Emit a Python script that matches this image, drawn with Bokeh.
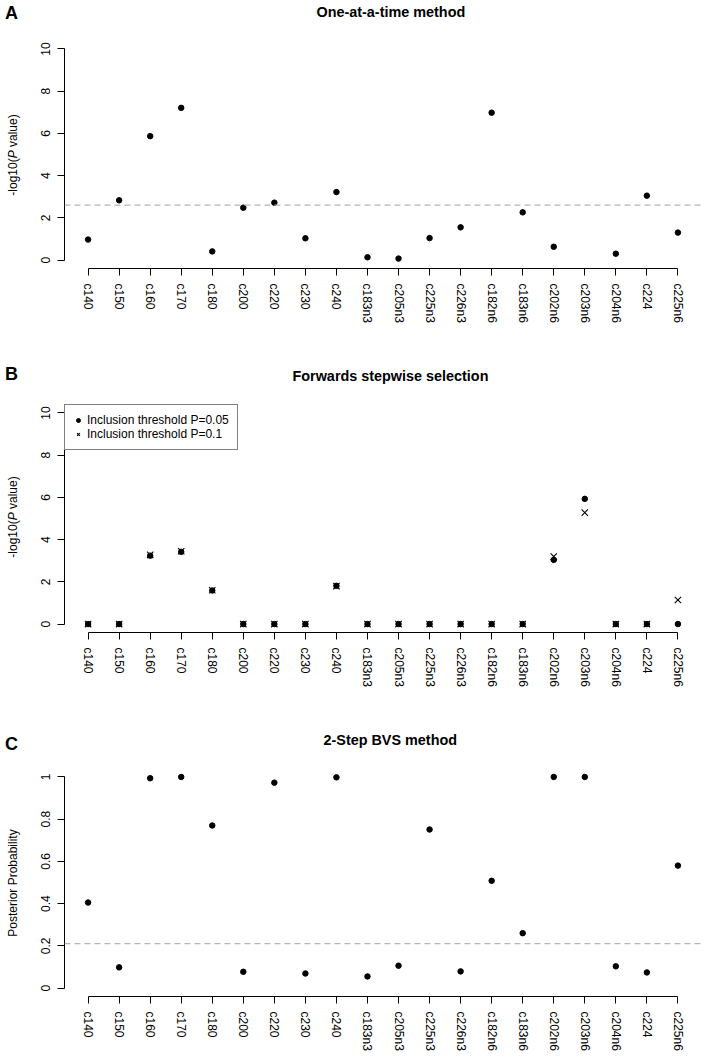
from bokeh.plotting import figure
from bokeh.models import (Range1d, FixedTicker, Span, Legend, LegendItem, Div, Title,
                          LinearAxis)
from bokeh.layouts import column, row
from bokeh.embed import file_html
from bokeh.resources import INLINE

nan = float("nan")

categories = ["c140", "c150", "c160", "c170", "c180", "c200", "c220", "c230", "c240",
              "c183n3", "c205n3", "c225n3", "c226n3", "c182n6", "c183n6", "c202n6",
              "c203n6", "c204n6", "c224", "c225n6"]

# Panel A: one-at-a-time method, -log10(P value)
one_at_a_time = [0.97, 2.83, 5.87, 7.21, 0.41, 2.48, 2.72, 1.03, 3.22, 0.13,
                 0.07, 1.04, 1.55, 6.98, 2.26, 0.63, nan, 0.30, 3.05, 1.30]
one_at_a_time_threshold = 2.6

# Panel B: forwards stepwise selection, -log10(P value)
stepwise_p005 = [0, 0, 3.24, 3.42, 1.59, 0, 0, 0, 1.81, 0,
                 0, 0, 0, 0, 0, 3.04, 5.93, 0, 0, 0]
stepwise_p01 = [0, 0, 3.28, 3.45, 1.60, 0, 0, 0, 1.80, 0,
                0, 0, 0, 0, 0, 3.20, 5.28, 0, 0, 1.14]
legend_labels = ["Inclusion threshold P=0.05", "Inclusion threshold P=0.1"]

# Panel C: 2-step BVS method, posterior probability
bvs_posterior = [0.405, 0.098, 0.994, 1.0, 0.770, 0.077, 0.973, 0.069, 0.998, 0.055,
                 0.106, 0.751, 0.079, 0.508, 0.260, 1.0, 1.0, 0.103, 0.074, 0.580]
bvs_threshold = 0.21

pval_ticks = [0, 2, 4, 6, 8, 10]
pval_tick_labels = ["0", "2", "4", "6", "8", "10"]
prob_ticks = [0, 0.2, 0.4, 0.6, 0.8, 1]
prob_tick_labels = ["0", "0.2", "0.4", "0.6", "0.8", "1"]

titles = ["One-at-a-time method", "Forwards stepwise selection", "2-Step BVS method"]
panel_letters = ["A", "B", "C"]
ylabels_html = ["-log10(<i>P</i> value)", "-log10(<i>P</i> value)", "Posterior Probability"]

FONT = "Liberation Sans"
xpos = list(range(1, len(categories) + 1))
LEFT_W = 24


def base_fig(height, top, bottom, yr, ticks, tick_labels, title, title_offset):
    p = figure(width=706 - LEFT_W, height=height, min_border_left=64 - LEFT_W,
               min_border_right=5, min_border_top=top, min_border_bottom=bottom,
               x_range=Range1d(0.24, 20.76), y_range=Range1d(*yr), title=None,
               output_backend="svg", toolbar_location=None, tools="")
    p.outline_line_color = None
    p.xgrid.visible = False
    p.ygrid.visible = False
    p.background_fill_color = "white"
    p.border_fill_color = "white"

    xax = p.below[0]
    yax = p.left[0]

    # blank band between the frame and the title: a white, label-less top axis
    spacer = LinearAxis(ticker=FixedTicker(ticks=[10]), axis_line_color=None,
                        major_tick_out=21, major_tick_in=0, major_tick_line_color="white",
                        minor_tick_out=0, minor_tick_in=0, minor_tick_line_color=None,
                        major_label_standoff=0, major_label_overrides={10: ""},
                        major_label_text_font_size="0px")
    p.add_layout(spacer, "above")
    p.add_layout(Title(text=title, align="left", offset=title_offset, standoff=0,
                       vertical_align="bottom", text_font=FONT, text_font_size="14.4px",
                       text_font_style="bold", text_color="black"), "above")

    xax.ticker = FixedTicker(ticks=xpos)
    xax.major_label_overrides = {i: c for i, c in zip(xpos, categories)}
    xax.major_label_orientation = "vertical"
    xax.bounds = (xpos[0], xpos[-1])
    xax.major_label_standoff = 8
    yax.ticker = FixedTicker(ticks=ticks)
    yax.major_label_overrides = {t: l for t, l in zip(ticks, tick_labels)}
    yax.major_label_orientation = "vertical"
    yax.bounds = (ticks[0], ticks[-1])
    yax.major_label_standoff = 7
    for ax in (xax, yax):
        ax.axis_line_color = "black"
        ax.axis_line_width = 1
        ax.major_tick_line_color = "black"
        ax.major_tick_out = 7
        ax.major_tick_in = 0
        ax.minor_tick_out = 0
        ax.minor_tick_in = 0
        ax.major_label_text_font = FONT
        ax.major_label_text_font_size = "12px"
        ax.major_label_text_color = "black"
    return p


def left_div(idx, height, letter_y, label_y):
    html = (
        f'<div style="position:relative;width:{LEFT_W}px;height:{height}px;'
        f'font-family:Liberation Sans,Arial,sans-serif;color:black;">'
        f'<span style="position:absolute;left:5px;top:{letter_y}px;transform:translateY(-50%);'
        f'font-size:18px;font-weight:bold;line-height:1;">{panel_letters[idx]}</span>'
        f'<span style="position:absolute;left:13px;top:{label_y}px;'
        f'transform:translate(-50%,-50%) rotate(-90deg);font-size:12px;line-height:1;'
        f'white-space:nowrap;">{ylabels_html[idx]}</span></div>'
    )
    return Div(text=html, width=LEFT_W, height=height, margin=0)


# ---------------- Panel A ----------------
pA = base_fig(328, 40, 60, (-0.4, 10.4), pval_ticks, pval_tick_labels, titles[0], 252)
pA.add_layout(Span(location=one_at_a_time_threshold, dimension="width",
                   line_color="#b5b5b5", line_dash="6 4", line_width=1.2))
pA.scatter(xpos, one_at_a_time, marker="circle", size=5.5, color="black")
dA = left_div(0, 328, 13, 155)

# ---------------- Panel B ----------------
pB = base_fig(364, 76, 60, (-0.4, 10.4), pval_ticks, pval_tick_labels, titles[1], 228)
r1 = pB.scatter(xpos, stepwise_p005, marker="circle", size=5.5, color="black")
r2 = pB.scatter(xpos, stepwise_p01, marker="x", size=9, line_color="black", line_width=1.1)
legend = Legend(items=[LegendItem(label=legend_labels[0], renderers=[r1]),
                       LegendItem(label=legend_labels[1], renderers=[r2])],
                location="top_left", margin=0, padding=8, spacing=0,
                label_height=14, glyph_height=14, glyph_width=10, label_standoff=4,
                label_text_font=FONT, label_text_font_size="12px", label_text_color="black",
                border_line_color="black", border_line_width=1,
                background_fill_color="white", background_fill_alpha=1.0)
pB.add_layout(legend)
dB = left_div(1, 364, 46, 189)

# ---------------- Panel C ----------------
pC = base_fig(364, 76, 60, (-0.04, 1.04), prob_ticks, prob_tick_labels, titles[2], 259)
pC.add_layout(Span(location=bvs_threshold, dimension="width",
                   line_color="#b5b5b5", line_dash="6 4", line_width=1.2))
pC.scatter(xpos, bvs_posterior, marker="circle", size=5.5, color="black")
dC = left_div(2, 364, 52, 191)

layout = column(row(dA, pA, spacing=0), row(dB, pB, spacing=0), row(dC, pC, spacing=0), spacing=0)
open("out.html", "w").write(file_html(layout, INLINE))
